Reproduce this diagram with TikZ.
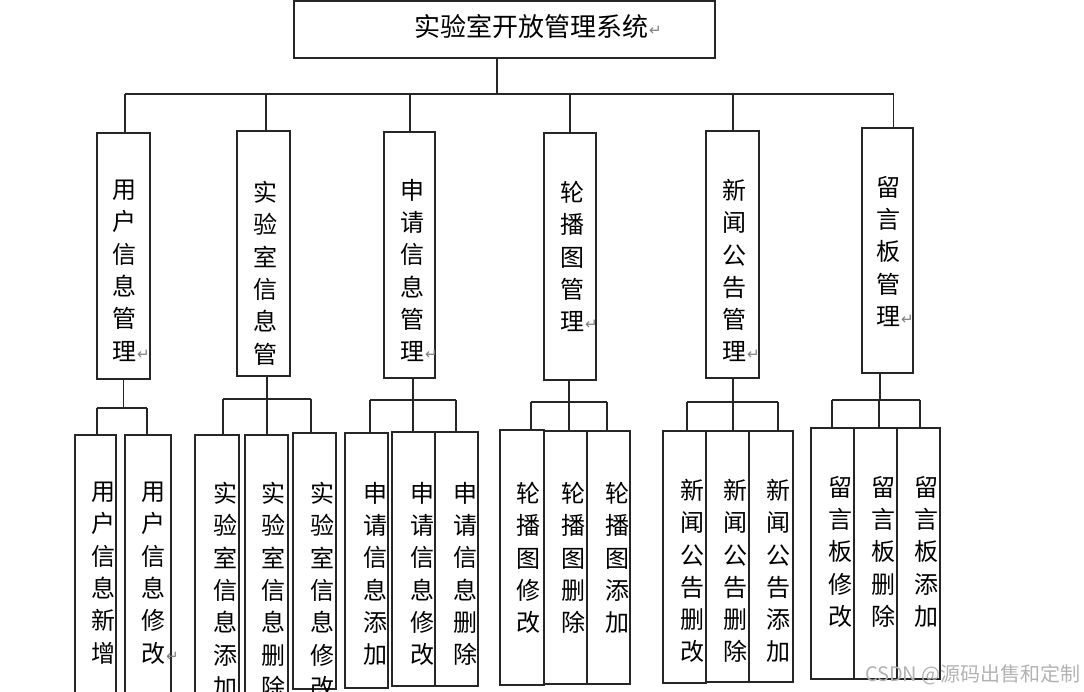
\documentclass[tikz,border=0pt]{standalone}
\usepackage{fontspec}
\setmainfont{Liberation Serif}
\newfontfamily\cjk{Noto Sans CJK SC}
\newfontfamily\dejavu{DejaVu Sans}
\newcommand{\ret}{\rlap{\hspace{1pt}\raisebox{1pt}{\textcolor{black!50}{\fontsize{15}{15}\selectfont\dejavu ↵}}}}
\newcommand{\mybox}[5]{\node[box, minimum width=#4pt, minimum height=#5pt] (#1) at (#2,#3) {};}
\newcommand{\mylab}[4]{\node[lbl] (#1) at (#2,#3-11) {#4};}
\newcommand{\mydrop}[3]{\draw[conn] ([xshift=#2pt]#1.north) -- ([xshift=#2pt]#1.north |- #3);}
\tikzset{
  box/.style={draw=black!85, line width=1.3pt, inner sep=0pt, rectangle},
  conn/.style={draw=black!85, line width=1.3pt},
  lbl/.style={font=\cjk\fontsize{24}{32.3}\selectfont, align=center, inner sep=0pt, anchor=north, text=black},
  title/.style={font=\cjk\fontsize{26}{30}\selectfont, inner sep=0pt, text=black},
  wm/.style={font=\cjk\fontsize{20}{22}\selectfont, inner sep=0pt, text=black!30}
}
\begin{document}
\begin{tikzpicture}[x=1pt,y=-1pt]
\useasboundingbox (0,0) rectangle (1084,692);
\clip (0,0) rectangle (1084,692);
% top
\mybox{T}{504.5}{29.5}{421}{57}
\node[title] (tT) at (531,27) {实验室开放管理系统\ret};
% level 1
\mybox{a}{123.5}{256}{53}{246}
\mybox{b}{263.5}{253.5}{53}{245}
\mybox{c}{409.5}{255}{51}{246}
\mybox{d}{570}{256.5}{52}{247}
\mybox{e}{732.5}{254.5}{53}{247}
\mybox{f}{887.5}{250.5}{51}{245}
\mylab{ta}{124}{191}{用\\户\\信\\息\\管\\理\ret}
\mylab{tb}{265}{192}{实\\验\\室\\信\\息\\管}
\mylab{tc}{412}{190}{申\\请\\信\\息\\管\\理\ret}
\mylab{td}{572}{192}{轮\\播\\图\\管\\理\ret}
\mylab{te}{734}{190}{新\\闻\\公\\告\\管\\理\ret}
\mylab{tf}{888}{187}{留\\言\\板\\管\\理\ret}
% level 2
\mybox{a1}{95.5}{577.5}{41}{285}
\mybox{a2}{148}{577.5}{46}{285}
\mybox{b1}{217}{577.5}{44}{285}
\mybox{b2}{266.5}{577.5}{43}{285}
\mybox{b3}{314.5}{561}{43}{256}
\mybox{c1}{366.5}{560.5}{43}{255}
\mybox{c2}{413.5}{559}{43}{254}
\mybox{c3}{456.5}{559}{43}{254}
\mybox{d1}{522}{557.5}{44}{255}
\mybox{d2}{565.5}{557.5}{43}{253}
\mybox{d3}{608.5}{557.5}{43}{253}
\mybox{e1}{684.5}{557}{43}{252}
\mybox{e2}{727.5}{556.5}{43}{251}
\mybox{e3}{771}{556.5}{44}{251}
\mybox{f1}{832.5}{553.5}{43}{251}
\mybox{f2}{875.5}{553.5}{43}{251}
\mybox{f3}{918.5}{553.5}{43}{251}
\mylab{la1}{103}{493}{用\\户\\信\\息\\新\\增}
\mylab{la2}{153}{493}{用\\户\\信\\息\\修\\改\ret}
\mylab{lb1}{225}{493}{实\\验\\室\\信\\息\\添\\加}
\mylab{lb2}{273}{493}{实\\验\\室\\信\\息\\删\\除}
\mylab{lb3}{322}{493}{实\\验\\室\\信\\息\\修\\改}
\mylab{lc1}{375}{493}{申\\请\\信\\息\\添\\加}
\mylab{lc2}{422}{493}{申\\请\\信\\息\\修\\改}
\mylab{lc3}{465}{493}{申\\请\\信\\息\\删\\除}
\mylab{ld1}{528}{493}{轮\\播\\图\\修\\改}
\mylab{ld2}{573}{493}{轮\\播\\图\\删\\除}
\mylab{ld3}{617}{493}{轮\\播\\图\\添\\加}
\mylab{le1}{692}{490}{新\\闻\\公\\告\\删\\改}
\mylab{le2}{735}{490}{新\\闻\\公\\告\\删\\除}
\mylab{le3}{778}{490}{新\\闻\\公\\告\\添\\加}
\mylab{lf1}{840}{487}{留\\言\\板\\修\\改}
\mylab{lf2}{883}{487}{留\\言\\板\\删\\除}
\mylab{lf3}{926}{487}{留\\言\\板\\添\\加}
% connectors level 0 -> 1
\coordinate (h0) at (0,94);
\draw[conn] ([xshift=-7.5pt]T.south) -- ([xshift=-7.5pt]T.south |- h0);
\draw[conn] ([xshift=1.5pt]a.north |- h0) -- ([xshift=6pt]f.north |- h0);
\mydrop{a}{1.5}{h0}
\mydrop{b}{2.5}{h0}
\mydrop{c}{0.5}{h0}
\mydrop{d}{0}{h0}
\mydrop{e}{0.5}{h0}
\mydrop{f}{6}{h0}
% group a
\coordinate (ha) at (0,408);
\draw[conn] (a.south) -- (a.south |- ha);
\draw[conn] ([xshift=1.5pt]a1.north |- ha) -- ([xshift=-1pt]a2.north |- ha);
\mydrop{a1}{1.5}{ha}
\mydrop{a2}{-1}{ha}
% group b
\coordinate (hb) at (0,399);
\draw[conn] ([xshift=3.5pt]b.south) -- ([xshift=3.5pt]b.south |- hb);
\draw[conn] ([xshift=6pt]b1.north |- hb) -- ([xshift=-3.5pt]b3.north |- hb);
\mydrop{b1}{6}{hb}
\mydrop{b2}{0.5}{hb}
\mydrop{b3}{-3.5}{hb}
% group c
\coordinate (hc) at (0,400);
\draw[conn] ([xshift=3.5pt]c.south) -- ([xshift=3.5pt]c.south |- hc);
\draw[conn] ([xshift=3.5pt]c1.north |- hc) -- ([xshift=-0.5pt]c3.north |- hc);
\mydrop{c1}{3.5}{hc}
\mydrop{c2}{-0.5}{hc}
\mydrop{c3}{-0.5}{hc}
% group d
\coordinate (hd) at (0,402);
\draw[conn] ([xshift=-1pt]d.south) -- ([xshift=-1pt]d.south |- hd);
\draw[conn] ([xshift=9pt]d1.north |- hd) -- ([xshift=-1.5pt]d3.north |- hd);
\mydrop{d1}{9}{hd}
\mydrop{d2}{3.5}{hd}
\mydrop{d3}{-1.5}{hd}
% group e
\coordinate (he) at (0,402);
\draw[conn] ([xshift=0.5pt]e.south) -- ([xshift=0.5pt]e.south |- he);
\draw[conn] ([xshift=2.5pt]e1.north |- he) -- ([xshift=7pt]e3.north |- he);
\mydrop{e1}{2.5}{he}
\mydrop{e2}{5.5}{he}
\mydrop{e3}{7}{he}
% group f
\coordinate (hf) at (0,400);
\draw[conn] ([xshift=-7.5pt]f.south) -- ([xshift=-7.5pt]f.south |- hf);
\draw[conn] ([xshift=-0.5pt]f1.north |- hf) -- ([xshift=1.5pt]f3.north |- hf);
\mydrop{f1}{-0.5}{hf}
\mydrop{f2}{3.5}{hf}
\mydrop{f3}{1.5}{hf}
% watermark
\node[wm, anchor=east] (wmk) at (1081,675) {CSDN @源码出售和定制};
\end{tikzpicture}
\end{document}
